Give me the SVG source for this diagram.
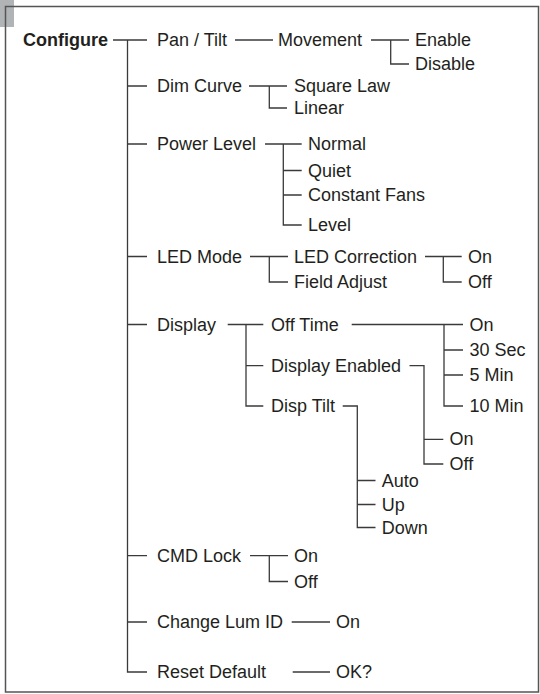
<svg xmlns="http://www.w3.org/2000/svg" width="540" height="694" viewBox="0 0 540 694">
<style>
text{font-family:"Liberation Sans",Arial,Helvetica,sans-serif;font-size:18px;fill:#231f20}
.b{font-weight:bold}
.c{fill:none;stroke:#3a3a3a;stroke-width:1.3}
</style>
<rect x="0" y="0" width="540" height="694" fill="#fff"/>
<rect x="0" y="0" width="14" height="27" fill="#b1b4b7"/>
<rect x="5.5" y="6.5" width="533" height="685.5" fill="none" stroke="#555" stroke-width="1.5"/>
<g id="connectors" class="c">
<path d="M113 40H147M127.5 40V672H147M127.5 86H147M127.5 144H147M127.5 256.5H147M127.5 324.5H147M127.5 555.7H147M127.5 622H147"/>
<path d="M235 40H273"/>
<path d="M371 40H409M390.7 40V64H409"/>
<path d="M249 86H287M269.3 86V108H287"/>
<path d="M265 144H301.7M283.3 144V225H301.7M283.3 170.5H301.7M283.3 195H301.7"/>
<path d="M250 256.5H288M269.3 256.5V282H288"/>
<path d="M425 256.5H461.7M443.3 256.5V282H461.7"/>
<path d="M227.7 324.5H263.3M246 324.5V406H263.3M246 365.7H263.3"/>
<path d="M351.7 324.5H463M444 324.5V406H463M444 350H463M444 375H463"/>
<path d="M409.5 365.7H424V464H443.3M424 439.3H443.3"/>
<path d="M342.7 406H357.3V527.5H375.5M357.3 480.5H375.5M357.3 504.5H375.5"/>
<path d="M250 555.7H288M269.3 555.7V581.5H288"/>
<path d="M291.7 622H330"/>
<path d="M292.7 672H330"/>
</g>
<g id="configure"><text class="b" x="23" y="46">Configure</text></g>
<g id="pan-tilt"><text x="157" y="46">Pan / Tilt</text></g>
<g id="movement"><text x="278" y="46">Movement</text></g>
<g id="enable"><text x="415" y="46">Enable</text></g>
<g id="disable"><text x="415" y="70">Disable</text></g>
<g id="dim-curve"><text x="157" y="92">Dim Curve</text></g>
<g id="square-law"><text x="294" y="92">Square Law</text></g>
<g id="linear"><text x="294" y="114">Linear</text></g>
<g id="power-level"><text x="157" y="150">Power Level</text></g>
<g id="normal"><text x="308" y="150">Normal</text></g>
<g id="quiet"><text x="308" y="176.5">Quiet</text></g>
<g id="constant-fans"><text x="308" y="201">Constant Fans</text></g>
<g id="level"><text x="308" y="231">Level</text></g>
<g id="led-mode"><text x="157" y="262.5">LED Mode</text></g>
<g id="led-correction"><text x="294" y="262.5">LED Correction</text></g>
<g id="field-adjust"><text x="294" y="288">Field Adjust</text></g>
<g id="led-on"><text x="468" y="262.5">On</text></g>
<g id="led-off"><text x="468" y="288">Off</text></g>
<g id="display"><text x="157" y="330.5">Display</text></g>
<g id="off-time"><text x="271" y="330.5">Off Time</text></g>
<g id="display-enabled"><text x="271" y="371.7">Display Enabled</text></g>
<g id="disp-tilt"><text x="271" y="412">Disp Tilt</text></g>
<g id="ot-on"><text x="469.5" y="330.5">On</text></g>
<g id="ot-30sec"><text x="469.5" y="356">30 Sec</text></g>
<g id="ot-5min"><text x="469.5" y="381">5 Min</text></g>
<g id="ot-10min"><text x="469.5" y="412">10 Min</text></g>
<g id="de-on"><text x="449.5" y="445.3">On</text></g>
<g id="de-off"><text x="449.5" y="470">Off</text></g>
<g id="dt-auto"><text x="381.7" y="486.5">Auto</text></g>
<g id="dt-up"><text x="381.7" y="510.5">Up</text></g>
<g id="dt-down"><text x="381.7" y="533.5">Down</text></g>
<g id="cmd-lock"><text x="157" y="561.7">CMD Lock</text></g>
<g id="cmd-on"><text x="294" y="561.7">On</text></g>
<g id="cmd-off"><text x="294" y="587.5">Off</text></g>
<g id="change-lum-id"><text x="157" y="628">Change Lum ID</text></g>
<g id="cl-on"><text x="336" y="628">On</text></g>
<g id="reset-default"><text x="157" y="678">Reset Default</text></g>
<g id="ok"><text x="336" y="678">OK?</text></g>
</svg>
